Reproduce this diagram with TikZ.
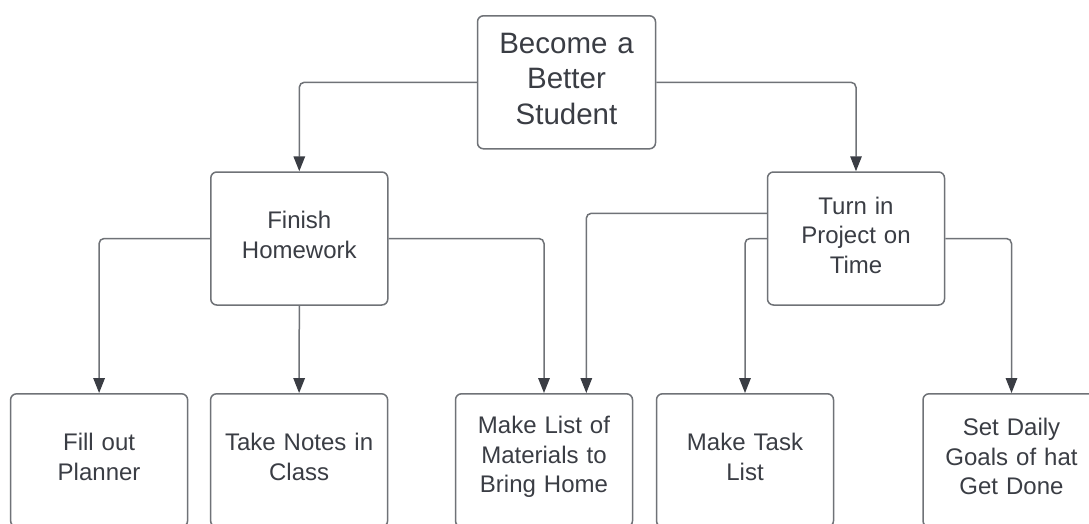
\documentclass[tikz,border=0pt]{standalone}
\usepackage{fontspec}
\setmainfont{Liberation Sans}
\usetikzlibrary{arrows.meta,positioning}
\definecolor{inkc}{HTML}{3A3D44}
\definecolor{edgec}{HTML}{6F7277}
\definecolor{tipc}{HTML}{3A3D44}
\tikzset{
  box/.style={draw=edgec, line width=1.5pt, rounded corners=6pt, fill=white,
    minimum width=177pt, minimum height=133pt, text width=165pt, align=center,
    inner sep=0pt, text=inkc, font=\fontsize{24}{29.5}\selectfont,
    execute at end node={\par\vspace*{7pt}}},
  rootbox/.style={box, minimum width=178pt, font=\fontsize{29.5}{35.5}\selectfont},
  conn/.style={draw=edgec, line width=1.5pt, rounded corners=5pt,
    -{Triangle[length=15pt,width=11.5pt,color=tipc]}}
}
\begin{document}
\begin{tikzpicture}[x=1pt,y=-1pt]
  \useasboundingbox (0,0) rectangle (1089,524);
  \clip (0,0) rectangle (1089,524);
  \fill[white] (0,0) rectangle (1089,524);

  % top level
  \node[rootbox] (root) at (566.5,82.3) {Become a\\Better\\Student};

  % second level
  \node[box] (fh) at (299.3,238.5) {Finish\\Homework};
  \node[box] (tp) at (856,238.5) {Turn in\\Project on\\Time};

  % third level
  \node[box] (plan)  at (99.1,460.3)  {Fill out\\Planner};
  \node[box] (notes) at (299.1,460.3) {Take Notes in\\Class};
  \node[box] (mat)   at (544,460.3)   {Make List of\\Materials to\\Bring Home};
  \node[box] (task)  at (745,460.3)   {Make Task\\List};
  \node[box] (goals) at (1011.5,460.3) {Set Daily\\Goals of hat\\Get Done};

  % connectors from the goal
  \draw[conn] (root.west) -| (fh.north);
  \draw[conn] (root.east) -| (tp.north);

  % connectors from Finish Homework
  \draw[conn] (fh.west) -| (plan.north);
  \draw[conn] (fh.south) -- (notes.north);
  \draw[conn] (fh.east) -| (mat.north);

  % connectors from Turn in Project on Time
  \draw[conn] ([yshift=25.2pt]tp.west) -| ([xshift=42.3pt]mat.north);
  \draw[conn] (tp.west) -| (task.north);
  \draw[conn] (tp.east) -| (goals.north);
\end{tikzpicture}
\end{document}
